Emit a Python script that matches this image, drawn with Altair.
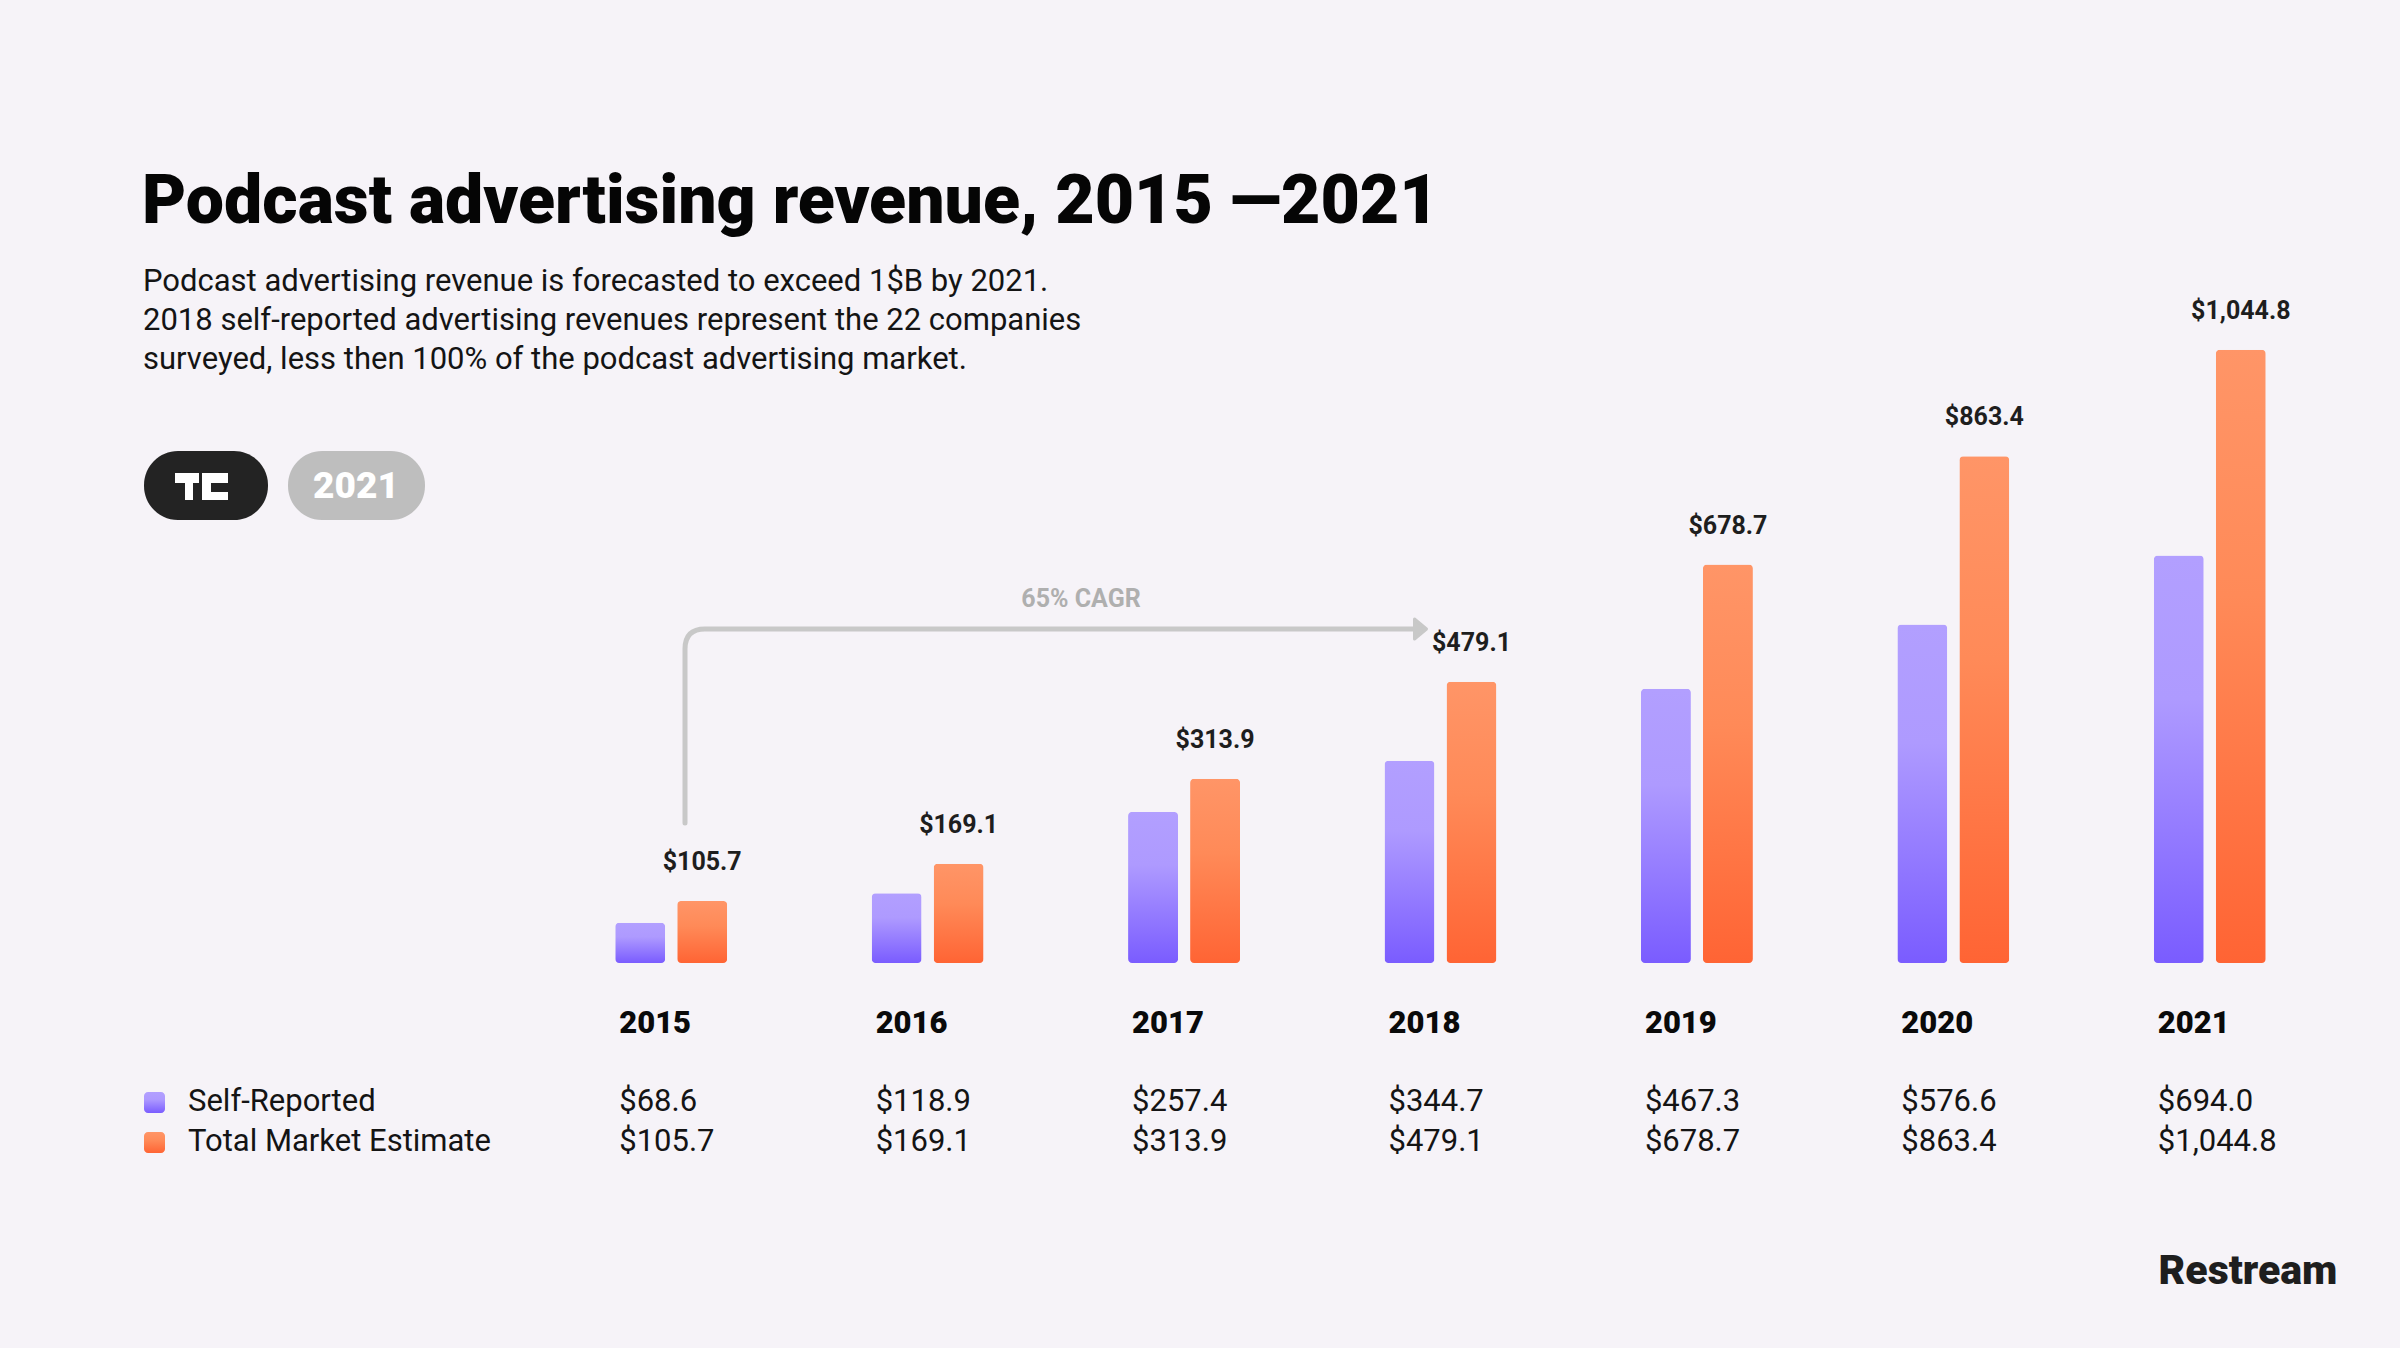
import altair as alt
import pandas as pd

# ---------------- data ----------------
years = ["2015", "2016", "2017", "2018", "2019", "2020", "2021"]
self_reported = [68.6, 118.9, 257.4, 344.7, 467.3, 576.6, 694.0]
total_market = [105.7, 169.1, 313.9, 479.1, 678.7, 863.4, 1044.8]

series_names = ["Self-Reported", "Total Market Estimate"]
title_text = "Podcast advertising revenue, 2015 —2021"
subtitle_lines = [
    "Podcast advertising revenue is forecasted to exceed 1$B by 2021.",
    "2018 self-reported advertising revenues represent the 22 companies",
    "surveyed, less then 100% of the podcast advertising market.",
]
cagr_text = "65% CAGR"
brand_text = "Restream"
badge_text = "2021"

df = pd.DataFrame({"year": years, "self": self_reported, "total": total_market})
one = pd.DataFrame({"k": [0]})

BG = "#F6F3F8"
FONT = "Roboto"
DARK = "#141414"

x_enc = alt.X(
    "year:N",
    sort=years,
    axis=None,
    scale=alt.Scale(type="band", domain=years, range=[543, 2338], paddingInner=0, paddingOuter=0),
)
y_scale = alt.Scale(domain=[0, 1000], range=[963, 376], nice=False, zero=True)

purple_grad = alt.Gradient(
    gradient="linear",
    stops=[
        alt.GradientStop(color="#B29FFF", offset=0),
        alt.GradientStop(color="#AE9AFF", offset=0.35),
        alt.GradientStop(color="#7A5CFF", offset=1),
    ],
    x1=0, x2=0, y1=0, y2=1,
)
orange_grad = alt.Gradient(
    gradient="linear",
    stops=[
        alt.GradientStop(color="#FF9567", offset=0),
        alt.GradientStop(color="#FF8A58", offset=0.4),
        alt.GradientStop(color="#FF6434", offset=1),
    ],
    x1=0, x2=0, y1=0, y2=1,
)

bars_self = alt.Chart(df).mark_bar(width=50, xOffset=-31, cornerRadius=4, color=purple_grad).encode(
    x=x_enc, y=alt.Y("self:Q", scale=y_scale, axis=None)
)
bars_total = alt.Chart(df).mark_bar(width=50, xOffset=31, cornerRadius=4, color=orange_grad).encode(
    x=x_enc, y=alt.Y("total:Q", scale=y_scale, axis=None)
)
top_labels = alt.Chart(df).mark_text(
    font=FONT, fontWeight="bold", fontSize=25, color="#1E1E1E",
    xOffset=31, dy=-31, baseline="alphabetic", align="center",
).encode(x=x_enc, y=alt.Y("total:Q", scale=y_scale, axis=None), text=alt.Text("total:Q", format="$,.1f"))

year_labels = alt.Chart(df).mark_text(
    font=FONT, fontWeight=900, fontSize=31, color="#0A0A0A", align="left", baseline="middle", xOffset=-52
).encode(x=x_enc, y=alt.value(1024), text="year:N")
row_self = alt.Chart(df).mark_text(
    font=FONT, fontSize=31, color=DARK, align="left", baseline="middle", xOffset=-52
).encode(x=x_enc, y=alt.value(1102), text=alt.Text("self:Q", format="$,.1f"))
row_total = alt.Chart(df).mark_text(
    font=FONT, fontSize=31, color=DARK, align="left", baseline="middle", xOffset=-52
).encode(x=x_enc, y=alt.value(1142), text=alt.Text("total:Q", format="$,.1f"))

# ---------------- header ----------------
title = alt.Chart(one).mark_text(
    font=FONT, fontWeight=900, fontSize=68, color="#050505", align="left", baseline="alphabetic", text=title_text
).encode(x=alt.value(142), y=alt.value(223))
subtitle = alt.Chart(one).mark_text(
    font=FONT, fontSize=31, color=DARK, align="left", baseline="alphabetic", lineHeight=39, text=subtitle_lines
).encode(x=alt.value(143), y=alt.value(291))

pill_logo = alt.Chart(one).mark_rect(cornerRadius=34, color="#232323").encode(
    x=alt.value(144), x2=alt.value(268), y=alt.value(451), y2=alt.value(520)
)
pill_year = alt.Chart(one).mark_rect(cornerRadius=34, color="#BEBEBE").encode(
    x=alt.value(288), x2=alt.value(425), y=alt.value(451), y2=alt.value(520)
)
# blocky "TC" logo glyph drawn as a custom symbol path (1 unit = 1 px)
logo_path = (
    "M-26.5,-13.5H-2.5V-3.5H-8.5V13.5H-16.5V-3.5H-26.5Z"
    "M0.5,-13.5H26.5V-3.5H9.5V5.5H26.5V13.5H0.5Z"
)
logo = alt.Chart(one).mark_point(
    shape=logo_path, size=4, filled=True, color="white", opacity=1
).encode(x=alt.value(201.5), y=alt.value(486.5))
badge = alt.Chart(one).mark_text(
    font=FONT, fontWeight=900, fontSize=37, color="white", align="center", baseline="middle", text=badge_text
).encode(x=alt.value(356), y=alt.value(487))

# ---------------- CAGR arrow ----------------
arrow_path = "M-1,0.2654L-1,-0.2107Q-1,-0.2654,-0.9453,-0.2654L1,-0.2654"
arrow_line = alt.Chart(one).mark_point(
    shape=arrow_path, size=534361, filled=False, color="#C8C8C8", strokeWidth=5, opacity=1, strokeCap="round"
).encode(x=alt.value(1050.5), y=alt.value(726))
arrow_head = alt.Chart(one).mark_point(
    shape="M-0.55,-1L0.65,0L-0.55,1Z", size=400, filled=True, color="#C8C8C8", opacity=1,
    stroke="#C8C8C8", strokeWidth=3, strokeJoin="round",
).encode(x=alt.value(1420), y=alt.value(629))
cagr = alt.Chart(one).mark_text(
    font=FONT, fontWeight="bold", fontSize=25, color="#AFAFAF", align="center", baseline="middle", text=cagr_text
).encode(x=alt.value(1081), y=alt.value(599))

# ---------------- legend ----------------
leg_purple = alt.Chart(one).mark_rect(cornerRadius=4, color=purple_grad).encode(
    x=alt.value(144), x2=alt.value(165), y=alt.value(1092), y2=alt.value(1113)
)
leg_orange = alt.Chart(one).mark_rect(cornerRadius=4, color=orange_grad).encode(
    x=alt.value(144), x2=alt.value(165), y=alt.value(1132), y2=alt.value(1153)
)
leg_t1 = alt.Chart(one).mark_text(
    font=FONT, fontSize=31, color=DARK, align="left", baseline="middle", text=series_names[0]
).encode(x=alt.value(188), y=alt.value(1102))
leg_t2 = alt.Chart(one).mark_text(
    font=FONT, fontSize=31, color=DARK, align="left", baseline="middle", text=series_names[1]
).encode(x=alt.value(188), y=alt.value(1142))

brand = alt.Chart(one).mark_text(
    font=FONT, fontWeight=900, fontSize=41, color="#1E1E1E", align="center", baseline="middle", text=brand_text
).encode(x=alt.value(2248), y=alt.value(1272))

chart = alt.layer(
    pill_logo, pill_year, logo, badge, title, subtitle,
    arrow_line, arrow_head, cagr,
    bars_self, bars_total, top_labels,
    year_labels, row_self, row_total,
    leg_purple, leg_orange, leg_t1, leg_t2, brand,
).properties(
    width=2400, height=1348, padding=0,
    autosize=alt.AutoSizeParams(type="none"),
    background=BG,
).configure_view(stroke=None)

chart.save("out.html", embed_options={"renderer": "svg", "actions": False})
